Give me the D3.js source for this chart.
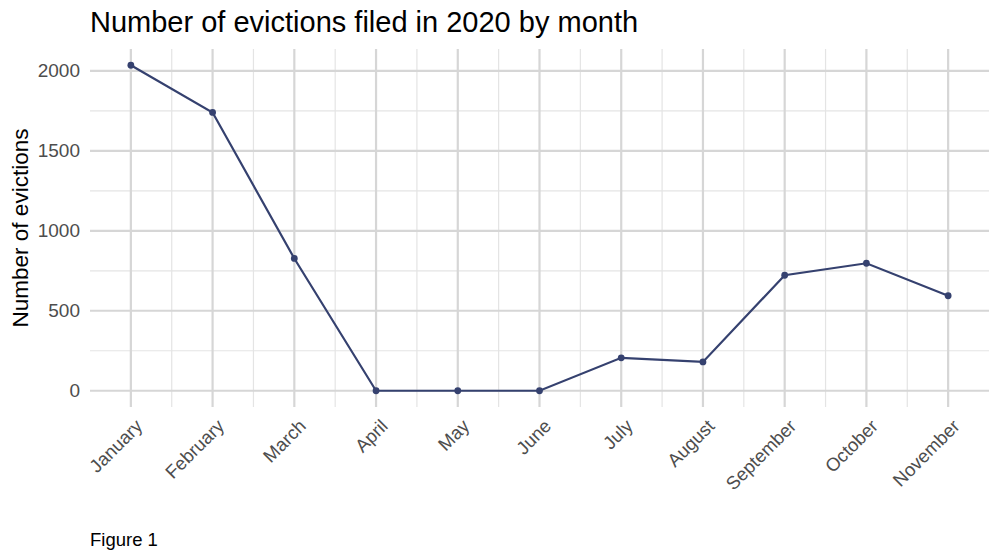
<!DOCTYPE html>
<html>
<head>
<meta charset="utf-8">
<script src="https://cdn.jsdelivr.net/npm/d3@7"></script>
<style>
  body { margin: 0; background: #fff; }
  svg { font-family: "Liberation Sans", Arial, sans-serif; }
</style>
</head>
<body>
<svg></svg>
<script>
//chart data
var months = ["January","February","March","April","May","June","July","August","September","October","November"]
var evictions = [2035, 1740, 827, 0, 0, 0, 206, 180, 722, 797, 594]
var yTicks = [0, 500, 1000, 1500, 2000]
var yMinor = [250, 750, 1250, 1750]

var screen = {width:1000, height:560}
var panel = {left:90, right:989, top:49, bottom:407}

var svg = d3.select("svg")
    .attr("width", screen.width)
    .attr("height", screen.height)

//x is month number 1..11 with 0.5 padding either side
var xScale = d3.scaleLinear()
    .domain([0.5, months.length + 0.5])
    .range([panel.left, panel.right])

var yMax = d3.max(evictions)
var yScale = d3.scaleLinear()
    .domain([-0.05*yMax, yMax*1.05])
    .range([panel.bottom, panel.top])

var xMinor = d3.range(1, months.length).map(function(d){ return d + 0.5 })
var xMajor = months.map(function(d,i){ return i + 1 })

var grid = svg.append("g").attr("id","grid")

//minor gridlines
grid.selectAll(".ymin").data(yMinor).enter().append("line")
    .attr("x1", panel.left).attr("x2", panel.right)
    .attr("y1", function(d){ return yScale(d) })
    .attr("y2", function(d){ return yScale(d) })
    .attr("stroke", "#e4e4e4").attr("stroke-width", 1.2)
grid.selectAll(".xmin").data(xMinor).enter().append("line")
    .attr("y1", panel.top).attr("y2", panel.bottom)
    .attr("x1", function(d){ return xScale(d) })
    .attr("x2", function(d){ return xScale(d) })
    .attr("stroke", "#e4e4e4").attr("stroke-width", 1.2)

//major gridlines
grid.selectAll(".ymaj").data(yTicks).enter().append("line")
    .attr("x1", panel.left).attr("x2", panel.right)
    .attr("y1", function(d){ return yScale(d) })
    .attr("y2", function(d){ return yScale(d) })
    .attr("stroke", "#d6d6d6").attr("stroke-width", 2.2)
grid.selectAll(".xmaj").data(xMajor).enter().append("line")
    .attr("y1", panel.top).attr("y2", panel.bottom)
    .attr("x1", function(d){ return xScale(d) })
    .attr("x2", function(d){ return xScale(d) })
    .attr("stroke", "#d6d6d6").attr("stroke-width", 2.2)

//axes (labels only, like theme_minimal)
var yAxis = d3.axisLeft(yScale).tickValues(yTicks).tickFormat(d3.format("d"))
    .tickSize(0).tickPadding(10)
svg.append("g")
    .attr("transform","translate("+panel.left+",0)")
    .call(yAxis)
    .call(function(g){ g.select(".domain").remove() })
    .selectAll("text")
    .attr("font-size", 19)
    .attr("fill", "#4d4d4d")
    .attr("font-family", "Liberation Sans, Arial, sans-serif")

var xAxis = d3.axisBottom(xScale).tickValues(xMajor)
    .tickFormat(function(d){ return months[d-1] })
    .tickSize(0)
svg.append("g")
    .attr("transform","translate(0,"+panel.bottom+")")
    .call(xAxis)
    .call(function(g){ g.select(".domain").remove() })
    .selectAll("text")
    .attr("font-size", 18.5)
    .attr("fill", "#4d4d4d")
    .attr("font-family", "Liberation Sans, Arial, sans-serif")
    .attr("text-anchor", "end")
    .attr("dy", "0.71em")
    .attr("y", 0)
    .attr("transform", "translate(3,11) rotate(-45)")

//line and points
var line = d3.line()
    .x(function(d,i){ return xScale(i+1) })
    .y(function(d){ return yScale(d) })

svg.append("path")
    .datum(evictions)
    .attr("d", line)
    .attr("fill", "none")
    .attr("stroke", "#35416f")
    .attr("stroke-width", 2.2)

svg.selectAll(".pt").data(evictions).enter().append("circle")
    .attr("cx", function(d,i){ return xScale(i+1) })
    .attr("cy", function(d){ return yScale(d) })
    .attr("r", 3.4)
    .attr("fill", "#35416f")

//titles
svg.append("text")
    .attr("x", 90).attr("y", 32)
    .attr("font-size", 29)
    .attr("fill", "#000")
    .text("Number of evictions filed in 2020 by month")

svg.append("text")
    .attr("transform", "translate(28,"+((panel.top+panel.bottom)/2)+") rotate(-90)")
    .attr("text-anchor", "middle")
    .attr("font-size", 22.5)
    .attr("fill", "#000")
    .text("Number of evictions")

svg.append("text")
    .attr("x", 90).attr("y", 546)
    .attr("font-size", 18.5)
    .attr("fill", "#000")
    .text("Figure 1")
</script>
</body>
</html>
